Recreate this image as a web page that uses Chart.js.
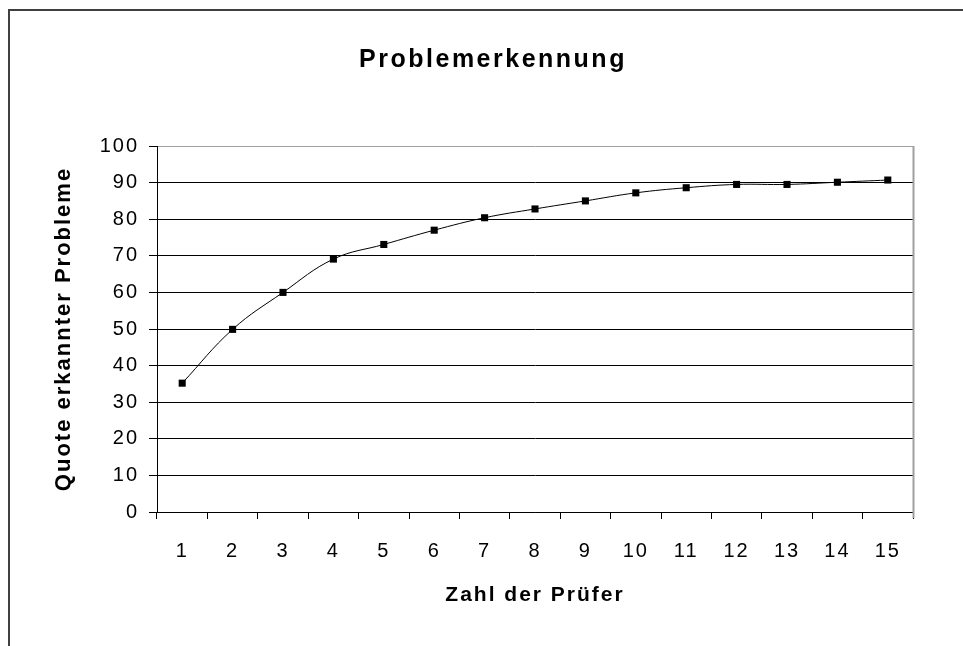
<!DOCTYPE html>
<html>
<head>
<meta charset="utf-8">
<script src="https://cdn.jsdelivr.net/npm/chart.js@4"></script>
<style>
  body { margin: 0; background: #fff; }
  canvas { display: block; }
</style>
</head>
<body>
<canvas id="chart" width="963" height="646"></canvas>
<script>
// Data
const pruefer = ['1', '2', '3', '4', '5', '6', '7', '8', '9', '10', '11', '12', '13', '14', '15'];
const quote = [35.2, 49.9, 60.0, 69.1, 73.1, 77.0, 80.4, 82.8, 85.0, 87.2, 88.6, 89.5, 89.5, 90.1, 90.7];
const chartTitle = 'Problemerkennung';
const xTitle = 'Zahl der Prüfer';
const yTitle = 'Quote erkannter Probleme';

const FONT = "'Liberation Sans', Arial, sans-serif";

// Excel-like frame, title and plot border
const excelLook = {
    id: 'excelLook',
    beforeDraw(chart) {
        const ctx = chart.ctx;
        ctx.save();
        ctx.fillStyle = '#fff';
        ctx.fillRect(0, 0, chart.width, chart.height);
        ctx.restore();
        // wide bitmap-ish text spacing
        ctx.letterSpacing = '2px';
    },
    afterDraw(chart) {
        const ctx = chart.ctx;
        const a = chart.chartArea;
        ctx.save();
        // plot area right border
        ctx.strokeStyle = '#a0a0a0';
        ctx.lineWidth = 2;
        ctx.beginPath();
        ctx.moveTo(a.right + 0.5, a.top);
        ctx.lineTo(a.right + 0.5, a.bottom + 6);
        ctx.stroke();
        // outer chart frame
        ctx.strokeStyle = '#404040';
        ctx.lineWidth = 2;
        ctx.beginPath();
        ctx.moveTo(9, chart.height + 5);
        ctx.lineTo(9, 10);
        ctx.lineTo(chart.width + 5, 10);
        ctx.stroke();
        // title
        ctx.letterSpacing = '2.5px';
        ctx.font = "bold 25px " + FONT;
        ctx.fillStyle = '#000';
        ctx.textAlign = 'center';
        ctx.textBaseline = 'alphabetic';
        ctx.fillText(chartTitle, 493, 67);
        ctx.restore();
    }
};

new Chart(document.getElementById('chart').getContext('2d'), {
    type: 'line',
    data: {
        labels: pruefer,
        datasets: [{
            data: quote,
            borderColor: '#000',
            borderWidth: 1,
            tension: 0.4,
            pointStyle: 'rect',
            pointRadius: 5,
            pointBackgroundColor: '#000',
            pointBorderWidth: 0,
            fill: false
        }]
    },
    options: {
        responsive: false,
        animation: false,
        events: [],
        layout: { padding: { left: 0, right: 50, top: 146, bottom: 0 } },
        plugins: {
            legend: { display: false },
            tooltip: { enabled: false }
        },
        scales: {
            x: {
                type: 'category',
                offset: true,
                afterFit: (s) => { s.height = 134; },
                grid: {
                    offset: true,
                    drawOnChartArea: false,
                    drawTicks: true,
                    tickLength: 7,
                    tickColor: '#000',
                    tickWidth: 1
                },
                border: { color: '#000', width: 1 },
                ticks: {
                    color: '#000',
                    font: { family: FONT, size: 20 },
                    padding: 20,
                    maxRotation: 0,
                    autoSkip: false
                },
                title: {
                    display: true,
                    text: xTitle,
                    color: '#000',
                    font: { family: FONT, size: 21, weight: 'bold' },
                    padding: { top: 0, bottom: 38 }
                }
            },
            y: {
                min: 0,
                max: 100,
                afterFit: (s) => { s.width = 157; },
                grid: {
                    color: (c) => (c.tick && c.tick.value === 100 ? '#a0a0a0' : '#000'),
                    lineWidth: 1,
                    drawTicks: true,
                    tickLength: 8,
                    tickColor: '#000'
                },
                border: { color: '#000', width: 1 },
                ticks: {
                    stepSize: 10,
                    color: '#000',
                    font: { family: FONT, size: 20 },
                    padding: 10
                },
                title: {
                    display: true,
                    text: yTitle,
                    color: '#000',
                    font: { family: FONT, size: 22, weight: 'bold' },
                    padding: { top: 51, bottom: 0 }
                }
            }
        }
    },
    plugins: [excelLook]
});
</script>
</body>
</html>
